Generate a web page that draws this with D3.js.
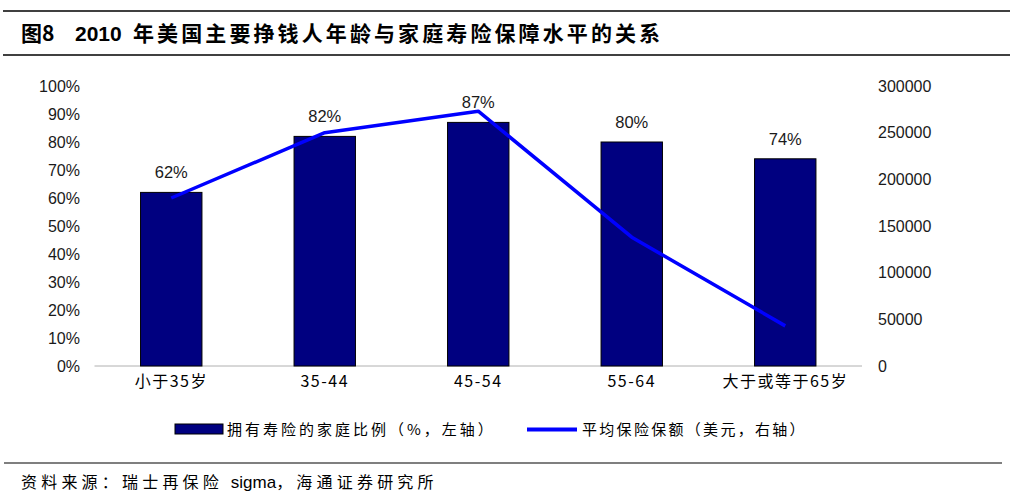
<!DOCTYPE html>
<html><head><meta charset="utf-8">
<script src="https://cdn.jsdelivr.net/npm/d3@7"></script>
<style>
body{margin:0;background:#fff;}
svg{display:block;}
</style></head>
<body>
<svg id="c" width="1020" height="500"></svg>
<script>
const categories = ["小于35岁","35-44","45-54","55-64","大于或等于65岁"];
const householdShare = [62, 82, 87, 80, 74];
const avgCoverage = [180000, 250000, 273000, 138000, 43000];
const leftTicks = [0,10,20,30,40,50,60,70,80,90,100];
const rightTicks = [0,50000,100000,150000,200000,250000,300000];
const legendLabels = ["拥有寿险的家庭比例（%，左轴）","平均保险保额（美元，右轴）"];
const titleParts = ["图8","2010","年美国主要挣钱人年龄与家庭寿险保障水平的关系"];
const sourceParts = ["资料来源：瑞士再保险 ","sigma","，海通证券研究所"];

const svg = d3.select("#c");
const cjk = "'Noto Sans CJK SC', 'Liberation Sans', sans-serif";
const latin = "'Liberation Sans', Arial, sans-serif";

// header
svg.append("line").attr("x1",3).attr("x2",1010).attr("y1",11).attr("y2",11).attr("stroke","#000").attr("stroke-width",1.5);
svg.append("line").attr("x1",3).attr("x2",1010).attr("y1",55).attr("y2",55).attr("stroke","#000").attr("stroke-width",1.5);
const title = svg.append("text").attr("y",41).attr("font-weight","bold").attr("font-size",21).attr("fill","#000");
title.append("tspan").attr("x",21).attr("font-family",cjk).text(titleParts[0]);
title.append("tspan").attr("x",75).attr("font-family",latin).text(titleParts[1]);
title.append("tspan").attr("x",133).attr("font-family",cjk).attr("letter-spacing",3.1).text(titleParts[2]);

// footer
svg.append("line").attr("x1",4).attr("x2",1002).attr("y1",463).attr("y2",463).attr("stroke","#000").attr("stroke-width",1.2);
const src = svg.append("text").attr("x",21).attr("y",488).attr("font-size",16).attr("fill","#000").attr("xml:space","preserve").style("white-space","pre");
src.append("tspan").attr("font-family",cjk).attr("letter-spacing",4.2).text(sourceParts[0]);
src.append("tspan").attr("font-family",latin).attr("font-size",17).text(sourceParts[1]);
src.append("tspan").attr("font-family",cjk).attr("letter-spacing",4.2).text(sourceParts[2]);

const x = d3.scaleBand().domain(categories).range([94.5, 862]).paddingInner(0.6).paddingOuter(0.3);
const yL = d3.scaleLinear().domain([0,100]).range([366, 86]);
const yR = d3.scaleLinear().domain([0,300000]).range([366, 86]);

// left axis labels
const gL = svg.append("g").attr("transform","translate(80,0)")
  .call(d3.axisLeft(yL).tickValues(leftTicks).tickFormat(d=>d+"%").tickSize(0).tickPadding(0));
gL.select(".domain").remove();
gL.selectAll("text").attr("font-family",latin).attr("font-size",16).attr("fill","#1a1a1a");

// right axis labels
const gR = svg.append("g").attr("transform","translate(878,0)")
  .call(d3.axisRight(yR).tickValues(rightTicks).tickFormat(d3.format("d")).tickSize(0).tickPadding(0));
gR.select(".domain").remove();
gR.selectAll("text").attr("font-family",latin).attr("font-size",16).attr("fill","#1a1a1a");

// baseline
svg.append("line").attr("x1",94.5).attr("x2",862).attr("y1",yL(0)).attr("y2",yL(0)).attr("stroke","#b0b0b0").attr("stroke-width",1);

// bars
const data = categories.map((c,i)=>({c, v:householdShare[i], a:avgCoverage[i]}));
svg.append("g").selectAll("rect").data(data).join("rect")
  .attr("x",d=>x(d.c)).attr("width",x.bandwidth())
  .attr("y",d=>yL(d.v)).attr("height",d=>yL(0)-yL(d.v))
  .attr("fill","#000080").attr("stroke","#000").attr("stroke-width",1);

// bar labels
svg.append("g").selectAll("text").data(data).join("text")
  .attr("x",d=>x(d.c)+x.bandwidth()/2).attr("y",d=>yL(d.v)-14)
  .attr("text-anchor","middle").attr("font-family",latin).attr("font-size",16.5).attr("fill","#1a1a1a")
  .text(d=>d.v+"%");

// line
const line = d3.line().x(d=>x(d.c)+x.bandwidth()/2).y(d=>yR(d.a));
svg.append("path").datum(data).attr("d",line).attr("fill","none").attr("stroke","#0000ff").attr("stroke-width",3.5).attr("stroke-linejoin","round");

// category labels
const gX = svg.append("g").attr("transform",`translate(0,${yL(0)})`)
  .call(d3.axisBottom(x).tickSize(0).tickPadding(10));
gX.select(".domain").remove();
gX.selectAll("text").attr("font-family",cjk).attr("font-size",16).attr("letter-spacing",1.5).attr("fill","#000");

// legend
const lg = svg.append("g");
lg.append("rect").attr("x",175).attr("y",424).attr("width",48).attr("height",10).attr("fill","#000080").attr("stroke","#000").attr("stroke-width",1);
lg.append("text").attr("x",227).attr("y",435).attr("font-family",cjk).attr("font-size",15).attr("letter-spacing",3).attr("fill","#000").text(legendLabels[0]);
lg.append("line").attr("x1",527).attr("x2",577).attr("y1",429.5).attr("y2",429.5).attr("stroke","#0000ff").attr("stroke-width",4);
lg.append("text").attr("x",582).attr("y",435).attr("font-family",cjk).attr("font-size",15).attr("letter-spacing",2.3).attr("fill","#000").text(legendLabels[1]);
</script>
</body></html>
